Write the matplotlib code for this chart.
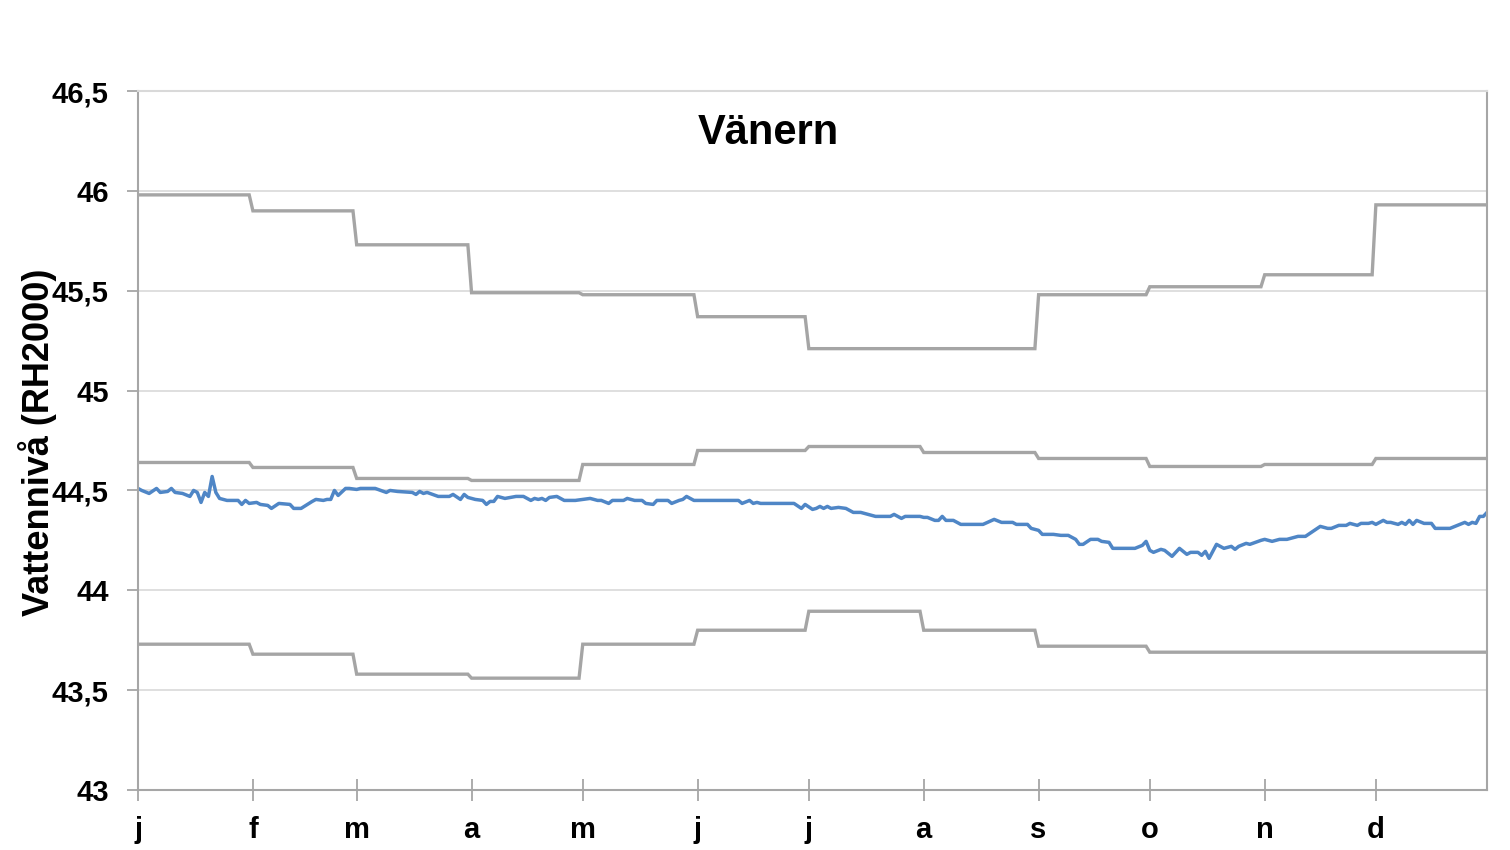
import numpy as np
import matplotlib
matplotlib.use("Agg")
import matplotlib.pyplot as plt

plt.rcParams['font.family'] = ['Liberation Sans', 'DejaVu Sans']

month_labels = ["j", "f", "m", "a", "m", "j", "j", "a", "s", "o", "n", "d"]
month_days = [31, 28, 31, 30, 31, 30, 31, 31, 30, 31, 30, 31]

# monthly max / mean / min water level
level_max = [45.98, 45.90, 45.73, 45.49, 45.48, 45.37, 45.21, 45.21, 45.48, 45.52, 45.58, 45.93]
level_mean = [44.64, 44.615, 44.56, 44.55, 44.63, 44.70, 44.72, 44.69, 44.66, 44.62, 44.63, 44.66]
level_min = [43.73, 43.68, 43.58, 43.56, 43.73, 43.80, 43.895, 43.80, 43.72, 43.69, 43.69, 43.69]

# daily water level (day of year, value)
obs_day = [0, 1, 3, 5, 6, 8, 9, 10, 12, 14, 15, 16, 17, 18, 19, 20, 21, 22, 24, 27,
           28, 29, 30, 32, 33, 35, 36, 38, 41, 42, 44, 47, 48, 50, 51, 52, 53, 54, 56, 57,
           59, 60, 62, 64, 67, 68, 70, 74, 75, 76, 77, 78, 81, 84, 85, 87, 88, 89, 91, 93,
           94, 95, 96, 97, 99, 102, 104, 106, 107, 108, 109, 110, 111, 113, 115, 118, 122, 124, 125, 127,
           128, 131, 132, 134, 136, 137, 139, 140, 143, 144, 146, 147, 148, 150, 162, 163, 165, 166, 167, 168,
           177, 179, 180, 182, 183, 184, 185, 186, 187, 189, 191, 193, 195, 197, 199, 203, 204, 206, 207, 211,
           212, 213, 215, 216, 217, 218, 220, 222, 228, 231, 233, 236, 237, 239, 240, 241, 243, 244, 247, 249,
           251, 253, 254, 255, 257, 259, 260, 262, 263, 269, 271, 272, 273, 274, 276, 277, 279, 280, 281, 283,
           284, 286, 287, 288, 289, 291, 293, 295, 296, 297, 299, 300, 303, 304, 306, 308, 310, 312, 313, 315,
           317, 319, 321, 322, 324, 326, 327, 329, 330, 332, 333, 334, 336, 337, 338, 340, 341, 342, 343, 344,
           345, 347, 349, 350, 354, 356, 358, 359, 360, 361, 362, 363, 364]
obs_level = [44.51, 44.50, 44.485, 44.51, 44.49, 44.495, 44.51, 44.49, 44.485, 44.47, 44.50, 44.49, 44.44, 44.49, 44.47, 44.57, 44.49, 44.46, 44.45, 44.45,
             44.43, 44.45, 44.435, 44.44, 44.43, 44.425, 44.41, 44.435, 44.43, 44.41, 44.41, 44.445, 44.455, 44.45, 44.455, 44.455, 44.50, 44.475, 44.51, 44.51,
             44.505, 44.51, 44.51, 44.51, 44.49, 44.50, 44.495, 44.49, 44.48, 44.495, 44.485, 44.49, 44.47, 44.47, 44.48, 44.455, 44.48, 44.465, 44.455, 44.45,
             44.43, 44.445, 44.445, 44.47, 44.46, 44.47, 44.47, 44.45, 44.46, 44.455, 44.46, 44.45, 44.465, 44.47, 44.45, 44.45, 44.46, 44.45, 44.45, 44.435,
             44.45, 44.45, 44.46, 44.45, 44.45, 44.435, 44.43, 44.45, 44.45, 44.435, 44.45, 44.455, 44.47, 44.45, 44.45, 44.435, 44.45, 44.435, 44.44, 44.435,
             44.435, 44.41, 44.43, 44.405, 44.41, 44.42, 44.41, 44.42, 44.41, 44.415, 44.41, 44.39, 44.39, 44.38, 44.37, 44.37, 44.38, 44.36, 44.37, 44.37,
             44.365, 44.365, 44.35, 44.35, 44.37, 44.35, 44.35, 44.33, 44.33, 44.355, 44.34, 44.34, 44.33, 44.33, 44.33, 44.31, 44.30, 44.28, 44.28, 44.275,
             44.275, 44.255, 44.23, 44.23, 44.255, 44.255, 44.245, 44.24, 44.21, 44.21, 44.225, 44.245, 44.20, 44.19, 44.205, 44.20, 44.17, 44.19, 44.21, 44.18,
             44.19, 44.19, 44.175, 44.195, 44.16, 44.23, 44.21, 44.22, 44.205, 44.22, 44.235, 44.23, 44.25, 44.255, 44.245, 44.255, 44.255, 44.265, 44.27, 44.27,
             44.295, 44.32, 44.31, 44.31, 44.325, 44.325, 44.335, 44.325, 44.335, 44.335, 44.34, 44.33, 44.35, 44.34, 44.34, 44.33, 44.34, 44.33, 44.35, 44.33,
             44.35, 44.335, 44.335, 44.31, 44.31, 44.325, 44.34, 44.33, 44.34, 44.335, 44.37, 44.37, 44.39]

days = np.arange(sum(month_days))
month_start = np.cumsum([0] + month_days[:-1])

fig = plt.figure(figsize=(15.1, 8.5), dpi=100)
ax = fig.add_axes([0.0914, 0.0706, 0.8934, 0.8223])

gray = "#a5a5a5"
for series in (level_max, level_mean, level_min):
    ax.plot(days, np.repeat(series, month_days), color=gray, lw=2.4, solid_joinstyle="miter")
ax.plot(obs_day, obs_level, color="#4f86c6", lw=2.5)

ax.set_xlim(0, 364)
ax.set_ylim(43, 46.5)
ax.set_yticks(np.arange(43, 46.51, 0.5))
ax.set_yticklabels(["43", "43,5", "44", "44,5", "45", "45,5", "46", "46,5"])
ax.set_xticks(month_start)
ax.set_xticklabels(month_labels)
ax.grid(axis="y", color="#d9d9d9", lw=1.2)
ax.set_axisbelow(True)

for side in ("left", "bottom", "right", "top"):
    ax.spines[side].set_color("#a6a6a6")
    ax.spines[side].set_linewidth(1.5)
ax.spines["top"].set_color("#d9d9d9")

ax.tick_params(axis="y", length=8, width=1.3, color="#a6a6a6", pad=13, labelsize=21)
ax.tick_params(axis="x", direction="inout", length=16, width=1.3, color="#a6a6a6", pad=11, labelsize=21)
for lab in ax.get_xticklabels() + ax.get_yticklabels():
    lab.set_fontweight("bold")

ax.set_ylabel("Vattennivå (RH2000)", fontsize=26, fontweight="bold")
ax.yaxis.set_label_coords(-0.06, 0.497)

ax.text(0.467, 0.968, "Vänern", transform=ax.transAxes, ha="center", va="top",
        fontsize=30, fontweight="bold")

fig.savefig("out.png", dpi=100)
